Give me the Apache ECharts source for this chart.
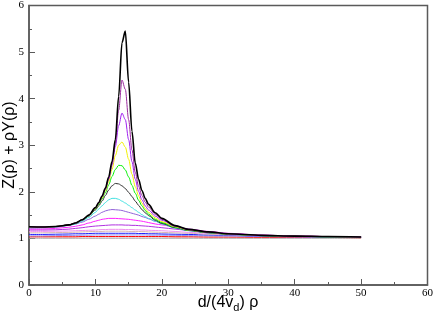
<!DOCTYPE html>
<html>
<head>
<meta charset="utf-8">
<script src="https://cdn.jsdelivr.net/npm/echarts@6/dist/echarts.min.js"></script>
<style>
  html, body { margin: 0; padding: 0; background: #fff; }
  #chart { width: 436px; height: 320px; }
</style>
</head>
<body>
<div id="chart"></div>
<script>
// x positions shared by every curve (denser round the resonance)
var xs = [0, 2, 4, 6, 7, 8, 9, 10, 10.5, 11, 11.5, 12, 12.5, 13, 13.5, 14, 14.5, 15, 15.5, 16, 16.5, 17, 17.5, 18, 19, 20, 22, 24, 27, 30, 35, 40, 45, 50];

// curves (top of the family first)
var blackTop   = [1.25, 1.245, 1.255, 1.29, 1.33, 1.40, 1.50, 1.66, 1.77, 1.91, 2.08, 2.32, 2.65, 3.12, 4.05, 5.20, 5.45, 4.35, 3.30, 2.62, 2.27, 2.03, 1.86, 1.73, 1.55, 1.43, 1.275, 1.195, 1.14, 1.10, 1.065, 1.05, 1.04, 1.03];
var purple     = [1.25, 1.245, 1.255, 1.29, 1.33, 1.40, 1.50, 1.66, 1.77, 1.90, 2.07, 2.30, 2.62, 3.05, 3.75, 4.40, 4.20, 3.55, 2.90, 2.42, 2.12, 1.92, 1.78, 1.67, 1.52, 1.41, 1.27, 1.19, 1.135, 1.10, 1.065, 1.05, 1.04, 1.03];
var violet     = [1.25, 1.245, 1.255, 1.29, 1.33, 1.40, 1.50, 1.65, 1.76, 1.89, 2.05, 2.27, 2.57, 2.97, 3.42, 3.69, 3.55, 3.12, 2.65, 2.27, 2.01, 1.83, 1.70, 1.61, 1.48, 1.39, 1.26, 1.185, 1.13, 1.095, 1.065, 1.05, 1.04, 1.03];
var yellow     = [1.25, 1.245, 1.255, 1.29, 1.33, 1.40, 1.50, 1.64, 1.75, 1.87, 2.02, 2.22, 2.48, 2.78, 3.00, 3.07, 2.96, 2.70, 2.38, 2.11, 1.91, 1.76, 1.64, 1.56, 1.44, 1.36, 1.25, 1.18, 1.13, 1.095, 1.065, 1.05, 1.04, 1.03];
var green      = [1.25, 1.245, 1.255, 1.29, 1.33, 1.40, 1.49, 1.63, 1.73, 1.85, 1.98, 2.15, 2.33, 2.48, 2.57, 2.56, 2.47, 2.32, 2.14, 1.97, 1.82, 1.70, 1.60, 1.52, 1.41, 1.34, 1.24, 1.175, 1.125, 1.09, 1.06, 1.045, 1.035, 1.03];
var blackThin  = [1.25, 1.245, 1.255, 1.285, 1.32, 1.39, 1.48, 1.61, 1.70, 1.80, 1.92, 2.04, 2.13, 2.18, 2.17, 2.13, 2.07, 1.99, 1.90, 1.80, 1.71, 1.62, 1.55, 1.49, 1.39, 1.32, 1.23, 1.17, 1.12, 1.09, 1.06, 1.045, 1.035, 1.03];
var cyan       = [1.25, 1.245, 1.25, 1.28, 1.31, 1.37, 1.45, 1.56, 1.63, 1.70, 1.77, 1.83, 1.86, 1.86, 1.84, 1.80, 1.76, 1.71, 1.66, 1.61, 1.56, 1.51, 1.47, 1.43, 1.37, 1.31, 1.22, 1.165, 1.12, 1.09, 1.06, 1.045, 1.035, 1.03];
var medPurple  = [1.22, 1.225, 1.24, 1.28, 1.31, 1.35, 1.41, 1.48, 1.52, 1.56, 1.59, 1.61, 1.62, 1.615, 1.61, 1.60, 1.58, 1.56, 1.54, 1.52, 1.50, 1.47, 1.45, 1.42, 1.37, 1.33, 1.26, 1.20, 1.14, 1.10, 1.065, 1.05, 1.04, 1.03];
var magenta    = [1.20, 1.20, 1.215, 1.24, 1.26, 1.29, 1.33, 1.37, 1.39, 1.41, 1.42, 1.43, 1.43, 1.43, 1.425, 1.42, 1.415, 1.41, 1.40, 1.39, 1.38, 1.37, 1.355, 1.34, 1.31, 1.29, 1.24, 1.20, 1.15, 1.11, 1.07, 1.05, 1.04, 1.03];
var darkViolet = [1.18, 1.18, 1.185, 1.20, 1.215, 1.23, 1.25, 1.265, 1.27, 1.275, 1.28, 1.285, 1.29, 1.29, 1.29, 1.29, 1.285, 1.285, 1.28, 1.28, 1.275, 1.27, 1.265, 1.26, 1.245, 1.23, 1.20, 1.17, 1.14, 1.10, 1.07, 1.05, 1.04, 1.03];
var pink       = [1.15, 1.15, 1.155, 1.16, 1.165, 1.17, 1.175, 1.18, 1.185, 1.19, 1.19, 1.195, 1.195, 1.195, 1.195, 1.195, 1.19, 1.19, 1.19, 1.185, 1.185, 1.18, 1.18, 1.175, 1.17, 1.165, 1.15, 1.13, 1.11, 1.09, 1.06, 1.045, 1.035, 1.03];
var rosy       = [1.12, 1.12, 1.125, 1.13, 1.135, 1.14, 1.145, 1.15, 1.15, 1.15, 1.155, 1.155, 1.155, 1.155, 1.155, 1.155, 1.155, 1.15, 1.15, 1.15, 1.15, 1.145, 1.145, 1.14, 1.135, 1.13, 1.12, 1.11, 1.09, 1.075, 1.055, 1.04, 1.035, 1.03];
var blue       = [1.085, 1.085, 1.09, 1.095, 1.10, 1.10, 1.105, 1.11, 1.11, 1.11, 1.11, 1.11, 1.11, 1.11, 1.11, 1.11, 1.11, 1.11, 1.11, 1.11, 1.105, 1.105, 1.105, 1.10, 1.10, 1.095, 1.09, 1.085, 1.075, 1.065, 1.05, 1.04, 1.03, 1.025];
var lightBlue  = [1.055, 1.055, 1.06, 1.065, 1.065, 1.07, 1.07, 1.075, 1.075, 1.075, 1.075, 1.075, 1.075, 1.075, 1.075, 1.075, 1.075, 1.075, 1.075, 1.075, 1.075, 1.075, 1.075, 1.07, 1.07, 1.07, 1.065, 1.06, 1.055, 1.05, 1.04, 1.03, 1.025, 1.02];
var red        = [1.035, 1.035, 1.035, 1.035, 1.035, 1.04, 1.04, 1.04, 1.04, 1.04, 1.04, 1.04, 1.04, 1.04, 1.04, 1.04, 1.04, 1.04, 1.04, 1.04, 1.04, 1.04, 1.04, 1.04, 1.04, 1.04, 1.035, 1.035, 1.03, 1.03, 1.025, 1.02, 1.02, 1.015];
var grey       = [1.005, 1.005, 1.005, 1.005, 1.005, 1.005, 1.005, 1.005, 1.005, 1.005, 1.005, 1.005, 1.005, 1.005, 1.005, 1.005, 1.005, 1.005, 1.005, 1.005, 1.005, 1.005, 1.005, 1.005, 1.005, 1.005, 1.005, 1.005, 1.005, 1.005, 1.005, 1.005, 1.005, 1.005];

var xTicks = [0, 10, 20, 30, 40, 50, 60];
var yTicks = [0, 1, 2, 3, 4, 5, 6];

// drawn bottom to top so the big black curve ends up on top
var curves = [
  { data: grey, color: "#a0a0a0", width: 1 },
  { data: red, color: "#ff0000", width: 1 },
  { data: lightBlue, color: "#9090f0", width: 1 },
  { data: blue, color: "#2020ff", width: 1 },
  { data: rosy, color: "#d8b4b4", width: 1 },
  { data: pink, color: "#f090f0", width: 1 },
  { data: darkViolet, color: "#b030e0", width: 1 },
  { data: magenta, color: "#ff20ff", width: 1 },
  { data: medPurple, color: "#9060d8", width: 1 },
  { data: cyan, color: "#40e0e0", width: 1 },
  { data: blackThin, color: "#303030", width: 1 },
  { data: green, color: "#00f000", width: 1 },
  { data: yellow, color: "#f0f000", width: 1 },
  { data: violet, color: "#a020f0", width: 1 },
  { data: purple, color: "#9a2a9e", width: 1 },
  { data: blackTop, color: "#000000", width: 1.6 },
];

var axisColor = "#5a5a5a";
var labelFont = { color: "#000", fontFamily: "Liberation Serif", fontSize: 11 };

var myChart = echarts.init(document.getElementById("chart"), null, { renderer: "canvas" });

var option = {
  animation: false,
  grid: {
    left: 29, right: 7, top: 5, bottom: 35,
    show: true, borderColor: axisColor, borderWidth: 1.5, backgroundColor: "transparent",
  },
  xAxis: {
    type: "value",
    min: xTicks[0],
    max: xTicks[xTicks.length - 1],
    interval: 10,
    axisLine: { lineStyle: { color: axisColor, width: 1.5 } },
    axisTick: { inside: true, length: 6, lineStyle: { color: axisColor } },
    minorTick: { show: true, splitNumber: 2, length: 3, lineStyle: { color: axisColor } },
    splitLine: { show: false },
    axisLabel: Object.assign({ margin: 3 }, labelFont),
  },
  yAxis: {
    type: "value",
    min: yTicks[0],
    max: yTicks[yTicks.length - 1],
    interval: 1,
    axisLine: { lineStyle: { color: axisColor, width: 1.5 } },
    axisTick: { inside: true, length: 6, lineStyle: { color: axisColor } },
    minorTick: { show: true, splitNumber: 2, length: 3, lineStyle: { color: axisColor } },
    splitLine: { show: false },
    axisLabel: Object.assign({ margin: 5 }, labelFont),
  },
  series: curves.map(function (c) {
    return {
      type: "line",
      showSymbol: false,
      smooth: 0.3,
      smoothMonotone: "x",
      data: xs.map(function (x, i) { return [x, c.data[i]]; }),
      lineStyle: { color: c.color, width: c.width },
      itemStyle: { color: c.color },
    };
  }),
  graphic: [
    {
      type: "text",
      x: 10, y: 145,
      rotation: Math.PI / 2,
      style: {
        text: "Z(ρ) + ρY(ρ)",
        fontFamily: "Liberation Sans", fontSize: 16, fill: "#000",
        align: "center", verticalAlign: "middle",
      },
    },
    {
      type: "text",
      x: 228, y: 303,
      style: {
        text: "{a|d/(4v}{s|d}{a|) ρ}",
        align: "center", verticalAlign: "middle",
        rich: {
          a: { fontFamily: "Liberation Sans", fontSize: 16, fill: "#000", height: 18 },
          s: { fontFamily: "Liberation Sans", fontSize: 11, fill: "#000", height: 18, padding: [9, 0, 0, 0] },
        },
      },
    },
  ],
};

option && myChart.setOption(option);
</script>
</body>
</html>
